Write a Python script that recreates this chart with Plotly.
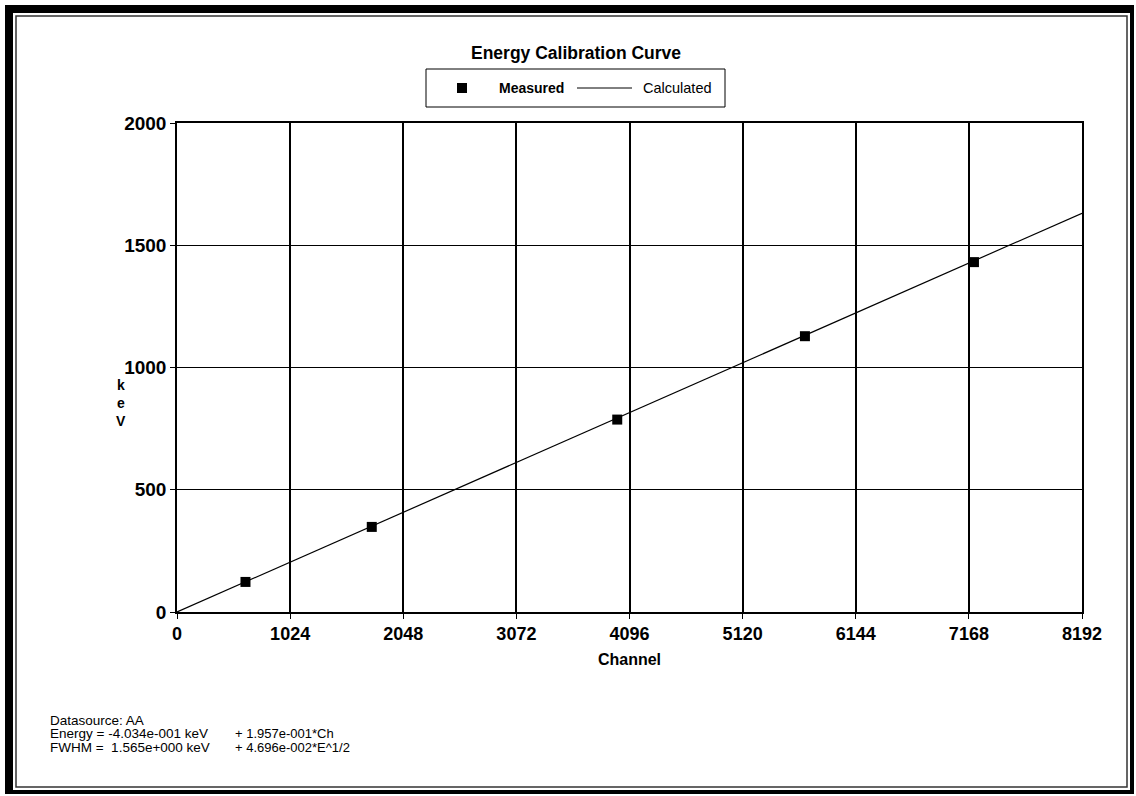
import plotly.graph_objects as go

# Measured calibration peaks (channel, energy in keV)
measured_channel = [620, 1763, 3985, 5684, 7214]
measured_kev = [123, 348, 787, 1128, 1431]

# Calculated calibration line end points
calc_channel = [0, 8192]
calc_kev = [0, 1631]

x_ticks = [0, 1024, 2048, 3072, 4096, 5120, 6144, 7168, 8192]
y_ticks = [0, 500, 1000, 1500, 2000]

title_text = "Energy Calibration Curve"
y_title_letters = ["k", "e", "V"]
info_lines_left = ["Datasource: AA", "Energy = -4.034e-001 keV", "FWHM =  1.565e+000 keV"]
info_lines_right = ["", "+ 1.957e-001*Ch", "+ 4.696e-002*E^1/2"]

W, H = 1136, 796
L, R, T, B = 177, 54, 123, 184
PW, PH = W - L - R, H - T - B
FONT = "Liberation Sans, Arial, sans-serif"


def fx(px):
    return (px - L) / PW


def fy(py):
    return (H - B - py) / PH


fig = go.Figure()

fig.add_trace(go.Scatter(
    x=calc_channel, y=calc_kev, mode="lines",
    line=dict(color="black", width=1.2), name="Calculated", showlegend=False,
))
fig.add_trace(go.Scatter(
    x=measured_channel, y=measured_kev, mode="markers",
    marker=dict(symbol="square", size=10, color="black"),
    name="Measured", showlegend=False,
))

shapes = []
ann = []

# page frame: heavy outer border with thin inner rule
for x0, y0, x1, y1 in [(5, 5, 1134, 13), (5, 5, 13, 794), (1130, 5, 1134, 794), (5, 790, 1134, 794)]:
    shapes.append(dict(type="rect", xref="paper", yref="paper",
                       x0=fx(x0), x1=fx(x1), y0=fy(y0), y1=fy(y1),
                       fillcolor="black", line=dict(width=0), layer="above"))
shapes.append(dict(type="rect", xref="paper", yref="paper",
                   x0=fx(16), x1=fx(1127), y0=fy(16), y1=fy(787),
                   line=dict(color="#333", width=1.5)))

# legend box
shapes.append(dict(type="rect", xref="paper", yref="paper",
                   x0=fx(426), x1=fx(725), y0=fy(69), y1=fy(107),
                   line=dict(color="black", width=1)))
shapes.append(dict(type="rect", xref="paper", yref="paper",
                   x0=fx(457), x1=fx(467), y0=fy(83), y1=fy(93),
                   fillcolor="black", line=dict(width=0)))
shapes.append(dict(type="line", xref="paper", yref="paper",
                   x0=fx(577), x1=fx(632), y0=fy(88), y1=fy(88),
                   line=dict(color="black", width=1)))
ann.append(dict(text="<b>Measured</b>", x=fx(497), y=fy(88), xref="paper", yref="paper",
                xanchor="left", yanchor="middle", showarrow=False,
                font=dict(family=FONT, size=14, color="black")))
ann.append(dict(text="Calculated", x=fx(641), y=fy(88), xref="paper", yref="paper",
                xanchor="left", yanchor="middle", showarrow=False,
                font=dict(family=FONT, size=14.5, color="black")))

# chart title
ann.append(dict(text="<b>" + title_text + "</b>", x=fx(576), y=fy(53), xref="paper", yref="paper",
                xanchor="center", yanchor="middle", showarrow=False,
                font=dict(family=FONT, size=17.5, color="black")))

# stacked y-axis title
for i, ch in enumerate(y_title_letters):
    ann.append(dict(text="<b>" + ch + "</b>", x=fx(121), y=fy(385 + i * 18), xref="paper", yref="paper",
                    xanchor="center", yanchor="middle", showarrow=False,
                    font=dict(family=FONT, size=14, color="black")))

# calibration parameters
for i, (a, b) in enumerate(zip(info_lines_left, info_lines_right)):
    yy = fy(720 + i * 13.5)
    ann.append(dict(text=a, x=fx(48), y=yy, xref="paper", yref="paper",
                    xanchor="left", yanchor="middle", showarrow=False,
                    font=dict(family=FONT, size=13.5, color="black")))
    if b:
        ann.append(dict(text=b, x=fx(233), y=yy, xref="paper", yref="paper",
                        xanchor="left", yanchor="middle", showarrow=False,
                        font=dict(family=FONT, size=13, color="black")))

fig.update_layout(
    width=W, height=H, autosize=False,
    margin=dict(l=L, r=R, t=T, b=B),
    paper_bgcolor="white", plot_bgcolor="white",
    shapes=shapes, annotations=ann,
    showlegend=False,
)

fig.update_xaxes(
    range=[0, 8192], tickvals=x_ticks, ticktext=[f"<b>{v}</b>" for v in x_ticks],
    showgrid=True, gridcolor="black", gridwidth=1.5,
    showline=True, linecolor="black", linewidth=1.5, mirror=True,
    ticks="outside", ticklen=5, tickcolor="black", zeroline=False,
    tickfont=dict(family=FONT, size=18, color="black"),
    title=dict(text="<b>Channel</b>", standoff=10,
               font=dict(family=FONT, size=16, color="black")),
)
fig.update_yaxes(
    range=[0, 2000], tickvals=y_ticks, ticktext=[f"<b>{v}</b>" for v in y_ticks],
    showgrid=True, gridcolor="black", gridwidth=1,
    showline=True, linecolor="black", linewidth=1.5, mirror=True,
    ticks="outside", ticklen=5, tickcolor="black", zeroline=False,
    tickfont=dict(family=FONT, size=19, color="black"),
)

fig.write_html("out.html")
